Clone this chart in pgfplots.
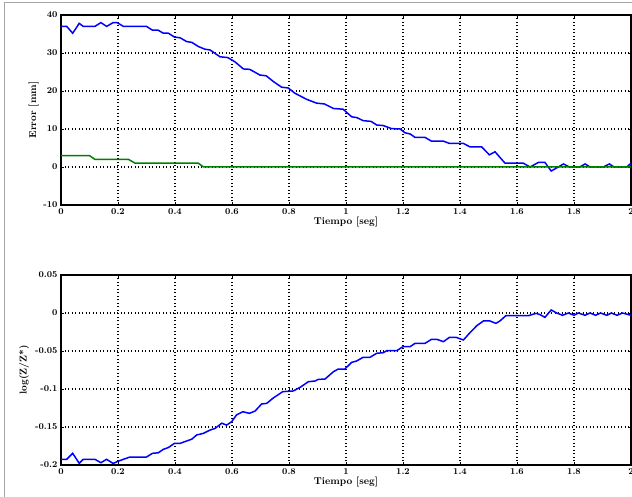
\documentclass[border=0pt]{standalone}
\usepackage{pgfplots}
\pgfplotsset{compat=1.18}

\definecolor{mblue}{RGB}{0,0,255}
\definecolor{mgreen}{RGB}{0,128,0}

\pgfplotsset{
  erraxis/.style={
    scale only axis,
    width=570bp, height=190bp,
    anchor=south west,
    xmin=0, xmax=2,
    xtick={0,0.2,...,2},
    axis line style={line width=1.8bp},
    grid=major,
    grid style={black, line width=1.2bp, dash pattern=on 1.3bp off 2.2bp},
    tick style={black, line width=0.8bp},
    major tick length=3bp,
    tick align=inside,
    /pgf/number format/assume math mode=true,
    tick label style={font=\small\bfseries},
    label style={font=\bfseries},
    xlabel={Tiempo [seg]},
    xlabel style={yshift=4bp},
  }
}

\begin{document}
\begin{tikzpicture}
\useasboundingbox (0,0) rectangle (632bp,497bp);
\draw[gray!70, line width=0.8bp] (4bp,0) -- (4bp,495bp) -- (632bp,495bp);

% error plot
\begin{axis}[erraxis,
  at={(61bp,292bp)},
  ymin=-10, ymax=40,
  ytick={-10,0,...,40},
  ylabel={Error [mm]},
  ylabel style={yshift=-2bp},
]
\addplot[mblue, line width=1.5bp] coordinates {
(0,37) (0.02,37) (0.041,35.2) (0.064,37.8) (0.078,37) (0.119,37) (0.14,38)
(0.16,37) (0.183,38) (0.197,38) (0.219,37) (0.3,37) (0.321,36) (0.341,36)
(0.359,35.2) (0.377,35.2) (0.398,34.2) (0.418,34) (0.441,33) (0.459,32.8)
(0.482,31.7) (0.505,31) (0.523,30.8) (0.558,29) (0.585,28.8) (0.61,27.7)
(0.64,25.8) (0.662,25.7) (0.698,24.2) (0.72,24) (0.745,22.5) (0.774,21)
(0.797,20.8) (0.821,19.4) (0.862,17.8) (0.897,16.8) (0.924,16.6) (0.956,15.4)
(0.99,15.2) (1.02,13.2) (1.038,13) (1.06,12.2) (1.088,12) (1.108,11.05)
(1.131,10.9) (1.16,10.1) (1.19,10) (1.207,9.0) (1.225,8.7) (1.242,7.8)
(1.277,7.8) (1.30,6.8) (1.342,6.8) (1.363,6.2) (1.412,6.2) (1.435,5.3)
(1.476,5.3) (1.503,3.2) (1.523,4.0) (1.558,1.0) (1.622,1.0) (1.646,0)
(1.675,1.2) (1.698,1.2) (1.72,-1.05) (1.745,0) (1.763,0.8) (1.784,0)
(1.82,0) (1.839,0.8) (1.856,0) (1.903,0) (1.924,0.8) (1.94,0) (1.985,0)
(2.0,1.0)
};
\addplot[mgreen, line width=1.5bp] coordinates {
(0,3) (0.1,3) (0.119,2) (0.237,2) (0.26,1) (0.482,1) (0.5,0) (2,0)
};
\end{axis}

% log plot
\begin{axis}[erraxis,
  at={(61bp,32bp)},
  ymin=-0.2, ymax=0.05,
  ytick={-0.2,-0.15,-0.1,-0.05,0,0.05},
  yticklabels={-0.2,-0.15,-0.1,-0.05,0,0.05},
  ylabel={log(Z/Z*)},
  ylabel style={yshift=-1bp},
]
\addplot[mblue, line width=1.5bp] coordinates {
(0,-0.1925) (0.02,-0.1925) (0.041,-0.1846) (0.064,-0.1978) (0.078,-0.1925)
(0.119,-0.1925) (0.14,-0.197) (0.16,-0.1925) (0.183,-0.198) (0.197,-0.1956)
(0.219,-0.1925) (0.242,-0.1895) (0.3,-0.1895) (0.321,-0.1846) (0.341,-0.184)
(0.359,-0.1794) (0.377,-0.177) (0.398,-0.1715) (0.418,-0.1715) (0.441,-0.1684)
(0.459,-0.166) (0.476,-0.1605) (0.5,-0.1583) (0.523,-0.154) (0.54,-0.152)
(0.564,-0.145) (0.581,-0.1475) (0.599,-0.143) (0.616,-0.134) (0.638,-0.1299)
(0.661,-0.132) (0.681,-0.129) (0.704,-0.1197) (0.722,-0.1189) (0.743,-0.1123)
(0.778,-0.1035) (0.815,-0.1026) (0.839,-0.0978) (0.868,-0.0904) (0.891,-0.0895)
(0.903,-0.0873) (0.926,-0.087) (0.956,-0.0772) (0.973,-0.0737) (0.996,-0.0737)
(1.02,-0.0649) (1.037,-0.0632) (1.06,-0.0583) (1.084,-0.0583) (1.108,-0.053)
(1.131,-0.0522) (1.143,-0.0496) (1.178,-0.0496) (1.2,-0.0443) (1.225,-0.0443)
(1.242,-0.04) (1.277,-0.04) (1.30,-0.0346) (1.318,-0.0346) (1.342,-0.0377)
(1.363,-0.032) (1.386,-0.032) (1.412,-0.0355) (1.433,-0.0267) (1.459,-0.0167)
(1.482,-0.0105) (1.505,-0.0105) (1.526,-0.0136) (1.54,-0.0105) (1.561,-0.0035)
(1.64,-0.0035) (1.667,-0.0005) (1.68,-0.002) (1.698,-0.0057) (1.72,0.004)
(1.739,0) (1.76,-0.003) (1.78,0) (1.8,-0.003) (1.815,0) (1.839,-0.003)
(1.856,0) (1.876,-0.003) (1.893,0) (1.915,-0.003) (1.931,0) (1.951,-0.003)
(1.97,0) (2.0,-0.003)
};
\end{axis}
\end{tikzpicture}
\end{document}
